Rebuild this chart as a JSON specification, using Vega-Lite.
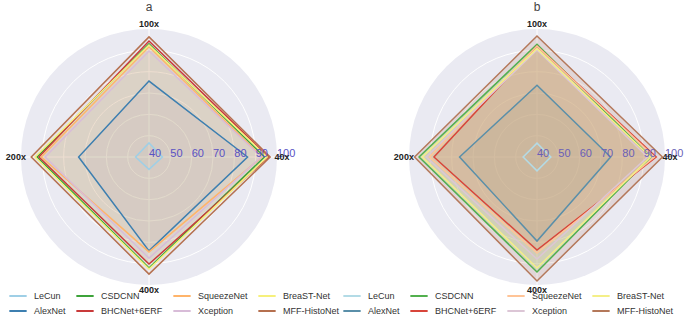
{
  "$schema": "https://vega.github.io/schema/vega-lite/v6.json",
  "padding": {"left": 5, "top": 0, "right": 0, "bottom": 0},
  "bounds": "flush",
  "spacing": 132,
  "config": {"view": {"stroke": null}, "font": "Liberation Sans"},
  "datasets": {
    "scores": [
      {"panel": "a", "model": "LeCun", "mag": "40x", "value": 46.3},
      {"panel": "a", "model": "LeCun", "mag": "100x", "value": 46.6},
      {"panel": "a", "model": "LeCun", "mag": "200x", "value": 46.3},
      {"panel": "a", "model": "LeCun", "mag": "400x", "value": 45.8},
      {"panel": "a", "model": "AlexNet", "mag": "40x", "value": 86.2},
      {"panel": "a", "model": "AlexNet", "mag": "100x", "value": 75.6},
      {"panel": "a", "model": "AlexNet", "mag": "200x", "value": 73.0},
      {"panel": "a", "model": "AlexNet", "mag": "400x", "value": 84.0},
      {"panel": "a", "model": "CSDCNN", "mag": "40x", "value": 94.1},
      {"panel": "a", "model": "CSDCNN", "mag": "100x", "value": 93.1},
      {"panel": "a", "model": "CSDCNN", "mag": "200x", "value": 92.5},
      {"panel": "a", "model": "CSDCNN", "mag": "400x", "value": 92.0},
      {"panel": "a", "model": "BHCNet+6ERF", "mag": "40x", "value": 96.0},
      {"panel": "a", "model": "BHCNet+6ERF", "mag": "100x", "value": 94.4},
      {"panel": "a", "model": "BHCNet+6ERF", "mag": "200x", "value": 91.6},
      {"panel": "a", "model": "BHCNet+6ERF", "mag": "400x", "value": 90.2},
      {"panel": "a", "model": "SqueezeNet", "mag": "40x", "value": 93.0},
      {"panel": "a", "model": "SqueezeNet", "mag": "100x", "value": 91.7},
      {"panel": "a", "model": "SqueezeNet", "mag": "200x", "value": 90.5},
      {"panel": "a", "model": "SqueezeNet", "mag": "400x", "value": 84.5},
      {"panel": "a", "model": "Xception", "mag": "40x", "value": 92.6},
      {"panel": "a", "model": "Xception", "mag": "100x", "value": 89.7},
      {"panel": "a", "model": "Xception", "mag": "200x", "value": 88.7},
      {"panel": "a", "model": "Xception", "mag": "400x", "value": 87.4},
      {"panel": "a", "model": "BreaST-Net", "mag": "40x", "value": 95.4},
      {"panel": "a", "model": "BreaST-Net", "mag": "100x", "value": 92.5},
      {"panel": "a", "model": "BreaST-Net", "mag": "200x", "value": 93.4},
      {"panel": "a", "model": "BreaST-Net", "mag": "400x", "value": 92.5},
      {"panel": "a", "model": "MFF-HistoNet", "mag": "40x", "value": 96.8},
      {"panel": "a", "model": "MFF-HistoNet", "mag": "100x", "value": 96.3},
      {"panel": "a", "model": "MFF-HistoNet", "mag": "200x", "value": 95.2},
      {"panel": "a", "model": "MFF-HistoNet", "mag": "400x", "value": 94.9},
      {"panel": "b", "model": "LeCun", "mag": "40x", "value": 46.5},
      {"panel": "b", "model": "LeCun", "mag": "100x", "value": 46.5},
      {"panel": "b", "model": "LeCun", "mag": "200x", "value": 46.5},
      {"panel": "b", "model": "LeCun", "mag": "400x", "value": 46.5},
      {"panel": "b", "model": "AlexNet", "mag": "40x", "value": 74.5},
      {"panel": "b", "model": "AlexNet", "mag": "100x", "value": 73.6},
      {"panel": "b", "model": "AlexNet", "mag": "200x", "value": 76.3},
      {"panel": "b", "model": "AlexNet", "mag": "400x", "value": 79.4},
      {"panel": "b", "model": "CSDCNN", "mag": "40x", "value": 93.4},
      {"panel": "b", "model": "CSDCNN", "mag": "100x", "value": 92.8},
      {"panel": "b", "model": "CSDCNN", "mag": "200x", "value": 95.3},
      {"panel": "b", "model": "CSDCNN", "mag": "400x", "value": 93.9},
      {"panel": "b", "model": "BHCNet+6ERF", "mag": "40x", "value": 95.9},
      {"panel": "b", "model": "BHCNet+6ERF", "mag": "100x", "value": 92.0},
      {"panel": "b", "model": "BHCNet+6ERF", "mag": "200x", "value": 88.3},
      {"panel": "b", "model": "BHCNet+6ERF", "mag": "400x", "value": 83.6},
      {"panel": "b", "model": "SqueezeNet", "mag": "40x", "value": 95.1},
      {"panel": "b", "model": "SqueezeNet", "mag": "100x", "value": 92.0},
      {"panel": "b", "model": "SqueezeNet", "mag": "200x", "value": 90.4},
      {"panel": "b", "model": "SqueezeNet", "mag": "400x", "value": 85.0},
      {"panel": "b", "model": "Xception", "mag": "40x", "value": 91.8},
      {"panel": "b", "model": "Xception", "mag": "100x", "value": 90.2},
      {"panel": "b", "model": "Xception", "mag": "200x", "value": 91.9},
      {"panel": "b", "model": "Xception", "mag": "400x", "value": 87.8},
      {"panel": "b", "model": "BreaST-Net", "mag": "40x", "value": 93.2},
      {"panel": "b", "model": "BreaST-Net", "mag": "100x", "value": 90.8},
      {"panel": "b", "model": "BreaST-Net", "mag": "200x", "value": 93.8},
      {"panel": "b", "model": "BreaST-Net", "mag": "400x", "value": 92.0},
      {"panel": "b", "model": "MFF-HistoNet", "mag": "40x", "value": 98.8},
      {"panel": "b", "model": "MFF-HistoNet", "mag": "100x", "value": 96.7},
      {"panel": "b", "model": "MFF-HistoNet", "mag": "200x", "value": 97.4},
      {"panel": "b", "model": "MFF-HistoNet", "mag": "400x", "value": 98.1}
    ],
    "rings": [{"r": 50}, {"r": 60}, {"r": 70}, {"r": 80}, {"r": 90}],
    "ticks": [{"r": 40}, {"r": 50}, {"r": 60}, {"r": 70}, {"r": 80}, {"r": 90}, {"r": 100}],
    "axes": [{"mag": "40x"}, {"mag": "100x"}, {"mag": "200x"}, {"mag": "400x"}]
  },
  "hconcat": [
    {
      "width": 256,
      "height": 256,
      "title": {"text": "a", "fontSize": 12, "fontWeight": "normal", "color": "#444444", "offset": 6, "font": "Liberation Sans"},
      "layer": [
        {
          "data": {"values": [{"r": 100}]},
          "transform": [{"calculate": "datum.r - 40", "as": "d"}],
          "mark": {"type": "point", "shape": "circle", "filled": true, "opacity": 1, "color": "#EAEAF2", "strokeWidth": 0},
          "encoding": {
            "x": {"datum": 0, "type": "quantitative", "scale": {"domain": [-60, 60]}, "axis": null},
            "y": {"datum": 0, "type": "quantitative", "scale": {"domain": [-60, 60]}, "axis": null},
            "size": {"field": "d", "type": "quantitative", "scale": {"type": "pow", "exponent": 2, "domain": [0, 60], "range": [0, 65536]}, "legend": null}
          }
        },
        {
          "data": {"name": "rings"},
          "transform": [{"calculate": "datum.r - 40", "as": "d"}],
          "mark": {"type": "point", "shape": "circle", "filled": false, "opacity": 1, "color": "#ffffff", "strokeWidth": 1},
          "encoding": {
            "x": {"datum": 0, "type": "quantitative", "scale": {"domain": [-60, 60]}, "axis": null},
            "y": {"datum": 0, "type": "quantitative", "scale": {"domain": [-60, 60]}, "axis": null},
            "size": {"field": "d", "type": "quantitative", "scale": {"type": "pow", "exponent": 2, "domain": [0, 60], "range": [0, 65536]}, "legend": null}
          }
        },
        {
          "data": {"values": [{"k": 0}]},
          "mark": {"type": "rule", "color": "#ffffff", "strokeWidth": 1},
          "encoding": {"y": {"datum": 0, "type": "quantitative", "scale": {"domain": [-60, 60]}, "axis": null}}
        },
        {
          "data": {"values": [{"k": 0}]},
          "mark": {"type": "rule", "color": "#ffffff", "strokeWidth": 1},
          "encoding": {"x": {"datum": 0, "type": "quantitative", "scale": {"domain": [-60, 60]}, "axis": null}}
        },
        {
          "data": {"name": "scores"},
          "transform": [
            {"filter": "datum.panel == 'a'"},
            {"calculate": "(datum.value - 40) * (datum.mag == '40x' ? 1 : datum.mag == '200x' ? -1 : 0)", "as": "px"},
            {"calculate": "(datum.value - 40) * (datum.mag == '100x' ? 1 : datum.mag == '400x' ? -1 : 0)", "as": "py"}
          ],
          "encoding": {
            "x": {"field": "px", "type": "quantitative", "scale": {"domain": [-60, 60]}, "axis": null},
            "y": {"field": "py", "type": "quantitative", "scale": {"domain": [-60, 60]}, "axis": null},
            "order": {"value": null},
            "color": {
              "field": "model", "type": "nominal",
              "scale": {
                "domain": ["LeCun", "AlexNet", "CSDCNN", "BHCNet+6ERF", "SqueezeNet", "Xception", "BreaST-Net", "MFF-HistoNet"],
                "range": ["#9fcfe6", "#3d7fb0", "#3da33a", "#c93a3a", "#ffb46a", "#d8bcd8", "#f6f07c", "#b5704f"]
              },
              "legend": {"orient": "none", "legendX": -13, "legendY": 257, "columns": 4, "title": null, "symbolType": "stroke", "symbolSize": 300, "symbolStrokeWidth": 2, "labelFontSize": 9, "labelColor": "#333333", "columnPadding": 6, "rowPadding": -2, "labelOffset": 6, "labelFont": "Liberation Sans"}
            }
          },
          "layer": [
            {"mark": {"type": "line", "interpolate": "linear-closed", "filled": true, "fillOpacity": 0.06}},
            {"mark": {"type": "line", "interpolate": "linear-closed", "strokeWidth": 1.5}}
          ]
        },
        {
          "data": {"name": "ticks"},
          "transform": [
            {"calculate": "datum.r - 40", "as": "px"},
            {"calculate": "0", "as": "py"}
          ],
          "mark": {"type": "text", "align": "left", "baseline": "middle", "dy": -3, "fontSize": 11, "color": "#5a52c4"},
          "encoding": {
            "x": {"field": "px", "type": "quantitative", "scale": {"domain": [-60, 60]}, "axis": null},
            "y": {"field": "py", "type": "quantitative", "scale": {"domain": [-60, 60]}, "axis": null},
            "text": {"field": "r", "type": "quantitative"}
          }
        },
        {
          "data": {"name": "axes"},
          "transform": [
            {"calculate": "62.4 * (datum.mag == '40x' ? 1 : datum.mag == '200x' ? -1 : 0)", "as": "px"},
            {"calculate": "62.4 * (datum.mag == '100x' ? 1 : datum.mag == '400x' ? -1 : 0)", "as": "py"}
          ],
          "mark": {"type": "text", "align": "center", "baseline": "middle", "fontSize": 9, "fontWeight": "bold", "color": "#222222"},
          "encoding": {
            "x": {"field": "px", "type": "quantitative", "scale": {"domain": [-60, 60]}, "axis": null},
            "y": {"field": "py", "type": "quantitative", "scale": {"domain": [-60, 60]}, "axis": null},
            "text": {"field": "mag", "type": "nominal"}
          }
        }
      ]
    },
    {
      "width": 256,
      "height": 256,
      "title": {"text": "b", "fontSize": 12, "fontWeight": "normal", "color": "#444444", "offset": 6, "font": "Liberation Sans"},
      "layer": [
        {
          "data": {"values": [{"r": 100}]},
          "transform": [{"calculate": "datum.r - 40", "as": "d"}],
          "mark": {"type": "point", "shape": "circle", "filled": true, "opacity": 1, "color": "#EAEAF2", "strokeWidth": 0},
          "encoding": {
            "x": {"datum": 0, "type": "quantitative", "scale": {"domain": [-60, 60]}, "axis": null},
            "y": {"datum": 0, "type": "quantitative", "scale": {"domain": [-60, 60]}, "axis": null},
            "size": {"field": "d", "type": "quantitative", "scale": {"type": "pow", "exponent": 2, "domain": [0, 60], "range": [0, 65536]}, "legend": null}
          }
        },
        {
          "data": {"name": "rings"},
          "transform": [{"calculate": "datum.r - 40", "as": "d"}],
          "mark": {"type": "point", "shape": "circle", "filled": false, "opacity": 1, "color": "#ffffff", "strokeWidth": 1},
          "encoding": {
            "x": {"datum": 0, "type": "quantitative", "scale": {"domain": [-60, 60]}, "axis": null},
            "y": {"datum": 0, "type": "quantitative", "scale": {"domain": [-60, 60]}, "axis": null},
            "size": {"field": "d", "type": "quantitative", "scale": {"type": "pow", "exponent": 2, "domain": [0, 60], "range": [0, 65536]}, "legend": null}
          }
        },
        {
          "data": {"values": [{"k": 0}]},
          "mark": {"type": "rule", "color": "#ffffff", "strokeWidth": 1},
          "encoding": {"y": {"datum": 0, "type": "quantitative", "scale": {"domain": [-60, 60]}, "axis": null}}
        },
        {
          "data": {"values": [{"k": 0}]},
          "mark": {"type": "rule", "color": "#ffffff", "strokeWidth": 1},
          "encoding": {"x": {"datum": 0, "type": "quantitative", "scale": {"domain": [-60, 60]}, "axis": null}}
        },
        {
          "data": {"name": "scores"},
          "transform": [
            {"filter": "datum.panel == 'b'"},
            {"calculate": "(datum.value - 40) * (datum.mag == '40x' ? 1 : datum.mag == '200x' ? -1 : 0)", "as": "px"},
            {"calculate": "(datum.value - 40) * (datum.mag == '100x' ? 1 : datum.mag == '400x' ? -1 : 0)", "as": "py"}
          ],
          "encoding": {
            "x": {"field": "px", "type": "quantitative", "scale": {"domain": [-60, 60]}, "axis": null},
            "y": {"field": "py", "type": "quantitative", "scale": {"domain": [-60, 60]}, "axis": null},
            "order": {"value": null},
            "color": {
              "field": "model", "type": "nominal",
              "scale": {
                "domain": ["LeCun", "AlexNet", "CSDCNN", "BHCNet+6ERF", "SqueezeNet", "Xception", "BreaST-Net", "MFF-HistoNet"],
                "range": ["#b3dbe6", "#5a8fa9", "#52b04e", "#d8453a", "#ffc497", "#dcc6d6", "#f4ef88", "#b4785a"]
              },
              "legend": {"orient": "none", "legendX": -67, "legendY": 257, "columns": 4, "title": null, "symbolType": "stroke", "symbolSize": 300, "symbolStrokeWidth": 2, "labelFontSize": 9, "labelColor": "#333333", "columnPadding": 6, "rowPadding": -2, "labelOffset": 6, "labelFont": "Liberation Sans"}
            }
          },
          "layer": [
            {"mark": {"type": "line", "interpolate": "linear-closed", "filled": true, "fillOpacity": 0.17}},
            {"mark": {"type": "line", "interpolate": "linear-closed", "strokeWidth": 1.5}}
          ]
        },
        {
          "data": {"name": "ticks"},
          "transform": [
            {"calculate": "datum.r - 40", "as": "px"},
            {"calculate": "0", "as": "py"}
          ],
          "mark": {"type": "text", "align": "left", "baseline": "middle", "dy": -3, "fontSize": 11, "color": "#6a5fb8"},
          "encoding": {
            "x": {"field": "px", "type": "quantitative", "scale": {"domain": [-60, 60]}, "axis": null},
            "y": {"field": "py", "type": "quantitative", "scale": {"domain": [-60, 60]}, "axis": null},
            "text": {"field": "r", "type": "quantitative"}
          }
        },
        {
          "data": {"name": "axes"},
          "transform": [
            {"calculate": "62.4 * (datum.mag == '40x' ? 1 : datum.mag == '200x' ? -1 : 0)", "as": "px"},
            {"calculate": "62.4 * (datum.mag == '100x' ? 1 : datum.mag == '400x' ? -1 : 0)", "as": "py"}
          ],
          "mark": {"type": "text", "align": "center", "baseline": "middle", "fontSize": 9, "fontWeight": "bold", "color": "#222222"},
          "encoding": {
            "x": {"field": "px", "type": "quantitative", "scale": {"domain": [-60, 60]}, "axis": null},
            "y": {"field": "py", "type": "quantitative", "scale": {"domain": [-60, 60]}, "axis": null},
            "text": {"field": "mag", "type": "nominal"}
          }
        }
      ]
    }
  ],
  "resolve": {"scale": {"color": "independent"}, "legend": {"color": "independent"}}
}
